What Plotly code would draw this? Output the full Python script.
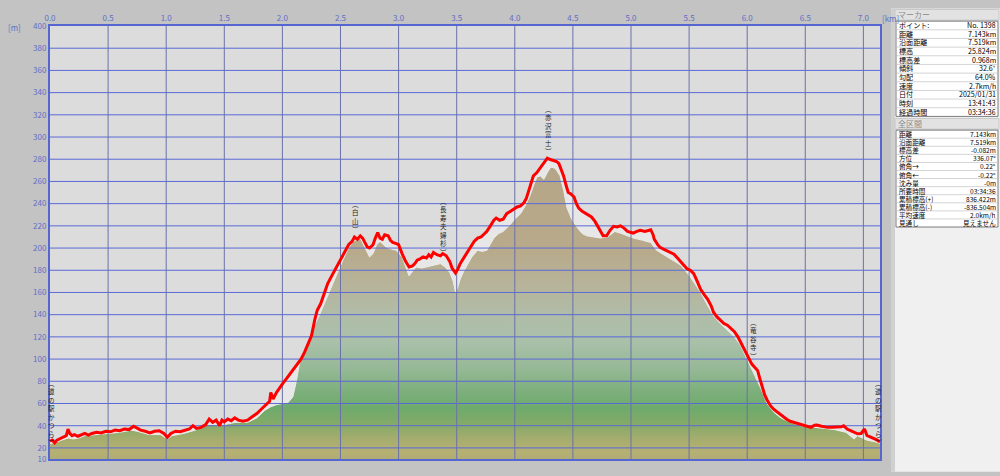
import plotly.graph_objects as go

# ---------------- data ----------------
TRACK_KM = [0.00, 0.02, 0.04, 0.06, 0.08, 0.10, 0.12, 0.14, 0.155, 0.17, 0.19, 0.21, 0.24, 0.27, 0.30, 0.33,
            0.36, 0.40, 0.44, 0.48, 0.52, 0.56, 0.60, 0.64, 0.68, 0.72, 0.75, 0.78, 0.82, 0.86, 0.90, 0.94,
            0.98, 1.01, 1.04, 1.08, 1.12, 1.16, 1.20, 1.23, 1.26, 1.30, 1.34, 1.37, 1.40, 1.43, 1.46, 1.48,
            1.50, 1.53, 1.56, 1.59, 1.62, 1.66, 1.70, 1.74, 1.78, 1.82, 1.86, 1.89, 1.90, 1.92, 1.95, 1.98,
            2.01, 2.04, 2.07, 2.10, 2.13, 2.16, 2.19, 2.22, 2.25, 2.28, 2.30, 2.33, 2.36, 2.39, 2.42, 2.45,
            2.48, 2.51, 2.54, 2.57, 2.60, 2.62, 2.645, 2.67, 2.69, 2.71, 2.73, 2.75, 2.78, 2.80, 2.82, 2.84,
            2.86, 2.88, 2.91, 2.93, 2.95, 2.98, 3.00, 3.03, 3.06, 3.09, 3.12, 3.14, 3.16, 3.18, 3.21, 3.24,
            3.26, 3.28, 3.30, 3.33, 3.36, 3.38, 3.41, 3.44, 3.46, 3.49, 3.51, 3.53, 3.56, 3.59, 3.62, 3.65,
            3.68, 3.71, 3.73, 3.76, 3.79, 3.82, 3.84, 3.87, 3.90, 3.93, 3.96, 3.99, 4.02, 4.05, 4.08, 4.10,
            4.12, 4.14, 4.16, 4.19, 4.22, 4.25, 4.28, 4.30, 4.33, 4.36, 4.38, 4.40, 4.42, 4.44, 4.46, 4.48,
            4.51, 4.53, 4.55, 4.58, 4.61, 4.64, 4.66, 4.69, 4.71, 4.74, 4.76, 4.79, 4.82, 4.85, 4.88, 4.91,
            4.94, 4.97, 5.00, 5.02, 5.05, 5.08, 5.12, 5.17, 5.19, 5.20, 5.23, 5.25, 5.28, 5.31, 5.34, 5.37,
            5.40, 5.43, 5.46, 5.48, 5.51, 5.54, 5.57, 5.60, 5.63, 5.66, 5.69, 5.71, 5.74, 5.77, 5.80, 5.83,
            5.86, 5.89, 5.92, 5.94, 5.97, 6.00, 6.02, 6.04, 6.07, 6.09, 6.11, 6.13, 6.15, 6.17, 6.20, 6.23,
            6.26, 6.29, 6.32, 6.34, 6.37, 6.40, 6.43, 6.46, 6.50, 6.53, 6.55, 6.58, 6.60, 6.64, 6.69, 6.73,
            6.78, 6.81, 6.83, 6.86, 6.89, 6.92, 6.95, 6.98, 7.00, 7.01, 7.03, 7.06, 7.09, 7.12, 7.143]
TRACK_ELEV = [26, 27, 24.5, 27, 28, 29, 30, 31, 37, 33, 31, 32, 30.5, 32, 33, 31.5,
              33, 34, 33.5, 35, 34.5, 36, 35.5, 37, 36.5, 39.5, 38, 36, 35, 33.5, 35, 35.5,
              33, 29.5, 33, 35, 34.5, 36, 37, 40, 37.5, 38.5, 41, 46, 43, 45, 40, 45,
              43.5, 46, 44.5, 47, 45, 44, 45, 48, 51, 55, 59, 62, 70, 64, 70, 75,
              79, 83, 87, 91, 95, 100, 106, 113, 121, 136, 144, 150, 160, 168, 174, 180,
              185, 191, 197, 203, 206, 210, 208, 211, 209, 205, 201, 200, 203, 209, 214, 209,
              208, 212, 211, 207, 205, 204, 203, 195, 188, 183, 184, 186, 189, 190, 192, 191,
              194, 192, 196, 194, 193, 195, 193, 188, 182, 177.5, 181, 186, 191, 196, 201, 206,
              209, 210, 212, 215, 220, 225, 227, 225, 226, 231, 233, 235, 237, 238, 241, 245,
              251, 258, 265, 268, 272, 276, 281, 280, 279, 278, 276, 271, 265, 257, 250, 249,
              246, 240, 236, 233, 231, 229, 228, 224, 220, 215, 211, 211, 216, 219.6, 219, 220,
              218, 215, 214, 213.5, 215, 216, 215, 216.5, 212, 208, 203, 200.6, 199, 197.7, 196, 194.5,
              191, 187.4, 184, 181.6, 180, 177, 170, 162.6, 158, 153.9, 148, 142.2, 138, 134.9, 132, 130.5,
              128, 124.7, 120, 116, 110, 104.2, 99, 95.5, 92, 89.6, 82, 75, 68, 63.4, 58, 54.6,
              52, 50.2, 47, 45.8, 44, 43, 42, 41.5, 40, 39, 38.5, 40.5, 40.6, 39.5, 38.5, 38.7,
              38.5, 39, 40, 37, 35.6, 34, 32.7, 33, 36, 37, 31.3, 30, 28.3, 27, 25.4]

TERRAIN_KM = [0.00, 0.05, 0.10, 0.16, 0.20, 0.25, 0.30, 0.40, 0.50, 0.60, 0.70, 0.75, 0.85, 0.95, 1.01, 1.05,
              1.15, 1.25, 1.35, 1.45, 1.50, 1.60, 1.70, 1.78, 1.85, 1.90, 1.95, 2.00, 2.05, 2.09, 2.12, 2.15,
              2.20, 2.26, 2.32, 2.38, 2.45, 2.52, 2.57, 2.61, 2.67, 2.71, 2.75, 2.78, 2.81, 2.84, 2.89, 2.94,
              2.98, 3.03, 3.06, 3.09, 3.12, 3.15, 3.20, 3.24, 3.30, 3.36, 3.40, 3.44, 3.47, 3.49, 3.51, 3.53,
              3.56, 3.59, 3.63, 3.68, 3.72, 3.76, 3.79, 3.82, 3.86, 3.90, 3.93, 3.96, 4.00, 4.05, 4.09, 4.13,
              4.16, 4.19, 4.22, 4.25, 4.28, 4.31, 4.34, 4.36, 4.39, 4.42, 4.45, 4.49, 4.54, 4.58, 4.62, 4.68,
              4.74, 4.80, 4.86, 4.92, 4.97, 5.02, 5.10, 5.17, 5.22, 5.31, 5.43, 5.51, 5.60, 5.65, 5.71, 5.77,
              5.83, 5.89, 5.94, 6.00, 6.06, 6.12, 6.17, 6.23, 6.29, 6.37, 6.46, 6.60, 6.75, 6.85, 6.90, 6.92,
              6.95, 7.03, 7.10, 7.143]
TERRAIN_ELEV = [24, 25, 27, 29, 28, 29, 31, 32, 33, 34, 36, 35, 32, 32, 28, 31,
                33, 36, 41, 41, 41, 43, 43, 47, 54, 57, 59, 60, 61, 66, 80, 98,
                112, 127, 140, 155, 172, 189, 200, 206, 209, 200, 192, 195, 203, 206, 201, 199,
                198, 192, 183, 175, 179, 183, 182, 183, 185, 186, 183, 178, 170, 160, 165, 172,
                179, 185, 192, 198, 197, 198, 204, 209, 213, 215, 218, 221, 226, 231, 238, 247,
                256, 264, 265, 262, 268, 273, 272, 270, 265, 252, 236, 226, 218, 213, 211, 210,
                209, 210, 215, 213, 211, 209, 207, 205, 198, 192, 184.5, 174, 160, 150, 139, 132,
                126, 120, 113, 100, 87, 73, 60, 52, 47, 43, 40, 38, 36.5, 34, 30, 28,
                31, 27, 25.5, 24]

X_MAX = 7.143
X_TICKS = [0.0, 0.5, 1.0, 1.5, 2.0, 2.5, 3.0, 3.5, 4.0, 4.5, 5.0, 5.5, 6.0, 6.5, 7.0]
Y_TICKS = [10, 20, 40, 60, 80, 100, 120, 140, 160, 180, 200, 220, 240, 260, 280, 300, 320, 340, 360, 380, 400]

PLACE_NAMES = ["道の駅かつら", "白山", "長寿夫婦杉", "赤沢富士", "竜谷寺", "道の駅かつら"]
PLACE_KM = [0.017, 2.63, 3.39, 4.29, 6.05, 7.13]
PLACE_Y = [52, 212, 191, 282, 97, 52]
PLACE_ANCHOR = ["middle", "bottom", "bottom", "bottom", "bottom", "middle"]

MARKER_LABELS = ["ポイント:", "距離", "沿面距離", "標高", "標高差", "傾斜", "勾配", "速度", "日付", "時刻", "経過時間"]
MARKER_VALUES = ["No. 1398", "7.143km", "7.519km", "25.824m", "0.968m", "32.6°", "64.0%", "2.7km/h",
                 "2025/01/31", "13:41:43", "03:34:36"]
TOTAL_LABELS = ["距離", "沿面距離", "標高差", "方位", "俯角→", "俯角←", "沈み量", "所要時間",
                "累積標高(+)", "累積標高(-)", "平均速度", "見通し"]
TOTAL_VALUES = ["7.143km", "7.519km", "-0.082m", "336.07°", "0.22°", "-0.22°", "-0m", "03:34:36",
                "836.422m", "-836.504m", "2.0km/h", "見えません"]

# ---------------- layout geometry ----------------
W, H = 1000, 476
ML, MR, MT, MB = 50, 120, 18, 13
PW, PH = W - ML - MR, H - MT - MB
FONT = "Noto Sans CJK JP"
AXC = "#5f6fc8"


def px(xpix):
    return (xpix - ML) / PW


def py(ypix):
    return (H - MB - ypix) / PH


fig = go.Figure()

# light fill under GPS track
fig.add_trace(go.Scatter(x=TRACK_KM, y=TRACK_ELEV, mode="lines", line=dict(width=0, color="#e7e7e7"),
                         fill="tozeroy", fillcolor="#e7e7e7", hoverinfo="skip", showlegend=False))
# terrain profile with gradient
fig.add_trace(go.Scatter(
    x=TERRAIN_KM, y=TERRAIN_ELEV, mode="lines", line=dict(width=1, color="#ececec"),
    fill="tozeroy",
    fillgradient=dict(type="vertical", start=10, stop=285, colorscale=[
        [0.0, "#958d80"], [0.03, "#aea877"], [0.06, "#b6b172"], [0.10, "#a6ad6e"],
        [0.15, "#84aa68"], [0.20, "#6eaa6c"], [0.26, "#7fb07e"], [0.33, "#97b997"],
        [0.41, "#a9c0a9"], [0.50, "#b0bca8"], [0.59, "#b7b49a"], [0.70, "#b8aa8b"],
        [1.0, "#b4a586"]]),
    hoverinfo="skip", showlegend=False))

# grid lines (drawn above the fill)
hx, hy = [], []
for v in Y_TICKS:
    if v % 20 == 0 and 10 < v < 400:
        hx += [0, X_MAX, None]
        hy += [v, v, None]
fig.add_trace(go.Scatter(x=hx, y=hy, mode="lines", line=dict(color="#5a6ad8", width=1),
                         hoverinfo="skip", showlegend=False))
vx, vy = [], []
for k in X_TICKS:
    if k > 0:
        vx += [k, k, None]
        vy += [10, 400, None]
fig.add_trace(go.Scatter(x=vx, y=vy, mode="lines", line=dict(color="#6b72a8", width=1),
                         hoverinfo="skip", showlegend=False))

# GPS track line
fig.add_trace(go.Scatter(x=TRACK_KM, y=TRACK_ELEV, mode="lines", line=dict(color="#ff0000", width=3),
                         hoverinfo="skip", showlegend=False))

annotations = []
shapes = []

# vertical place labels (characters stacked)
for name, km, yv, anc in zip(PLACE_NAMES, PLACE_KM, PLACE_Y, PLACE_ANCHOR):
    txt = "<br>".join(["︵"] + list(name) + ["︶"])
    annotations.append(dict(x=km, y=yv, xref="x", yref="y", text=txt, showarrow=False,
                            xanchor="center", yanchor=anc, borderpad=0,
                            font=dict(family=FONT, size=6.5, color="#222222")))

# axis unit labels
annotations.append(dict(x=px(6), y=py(20), xref="paper", yref="paper", text="[m]", showarrow=False,
                        xanchor="left", yanchor="middle", font=dict(family=FONT, size=8, color=AXC)))
annotations.append(dict(x=px(880), y=py(10), xref="paper", yref="paper", text="[km]", showarrow=False,
                        xanchor="left", yanchor="middle", font=dict(family=FONT, size=8, color=AXC)))

# right info panel
shapes.append(dict(type="rect", xref="paper", yref="paper", x0=px(891), x1=px(1000), y0=py(476), y1=py(0),
                   fillcolor="#f0f0f0", line=dict(width=0), layer="above"))
shapes.append(dict(type="rect", xref="paper", yref="paper", x0=px(891), x1=px(895), y0=py(476), y1=py(0),
                   fillcolor="#d0d0d0", line=dict(width=0), layer="above"))


def panel_table(title, title_top, table_top, row_h, labels, values, fsize):
    shapes.append(dict(type="rect", xref="paper", yref="paper", x0=px(895), x1=px(999),
                       y0=py(title_top + 11), y1=py(title_top), fillcolor="#e2e2e2",
                       line=dict(width=1, color="#c8c8c8"), layer="above"))
    annotations.append(dict(x=px(897), y=py(title_top + 5.5), xref="paper", yref="paper", text=title,
                            showarrow=False, xanchor="left", yanchor="middle", borderpad=0,
                            font=dict(family=FONT, size=8, color="#8a8a8a")))
    n = len(labels)
    bottom = table_top + n * row_h
    shapes.append(dict(type="rect", xref="paper", yref="paper", x0=px(896), x1=px(998),
                       y0=py(bottom), y1=py(table_top), fillcolor="#ffffff",
                       line=dict(width=1, color="#7a7a7a"), layer="above"))
    for i, (lab, val) in enumerate(zip(labels, values)):
        yc = table_top + (i + 0.5) * row_h
        if i > 0:
            yl = table_top + i * row_h
            shapes.append(dict(type="line", xref="paper", yref="paper", x0=px(897), x1=px(997),
                               y0=py(yl), y1=py(yl), line=dict(width=1, color="#d4d4d4"), layer="above"))
        annotations.append(dict(x=px(898), y=py(yc), xref="paper", yref="paper", text=lab, showarrow=False,
                                xanchor="left", yanchor="middle", borderpad=0, height=row_h - 0.4,
                                valign="middle",
                                font=dict(family=FONT, size=fsize, color="#000000")))
        annotations.append(dict(x=px(997), y=py(yc), xref="paper", yref="paper", text=val, showarrow=False,
                                xanchor="right", yanchor="middle", borderpad=0, height=row_h - 0.4,
                                valign="middle",
                                font=dict(family=FONT, size=fsize, color="#000000")))


panel_table("マーカー", 1, 13, 8.9, MARKER_LABELS, MARKER_VALUES, 7.1)
panel_table("全区間", 113, 125, 8.3, TOTAL_LABELS, TOTAL_VALUES, 6.6)

fig.update_layout(
    width=W, height=H,
    margin=dict(l=ML, r=MR, t=MT, b=MB, pad=0),
    paper_bgcolor="#c3c3c3", plot_bgcolor="#dcdcdc",
    showlegend=False,
    annotations=annotations, shapes=shapes,
    xaxis=dict(range=[0, X_MAX], side="top", tickvals=X_TICKS, ticktext=[f"{v:.1f}" for v in X_TICKS],
               showgrid=False, zeroline=False, showline=True, linecolor="#5566d0", linewidth=2, mirror=True,
               ticks="", tickfont=dict(family=FONT, size=8, color=AXC), fixedrange=True),
    yaxis=dict(range=[10, 400], tickvals=Y_TICKS, ticktext=[str(v) for v in Y_TICKS],
               showgrid=False, zeroline=False, showline=True, linecolor="#5566d0", linewidth=2, mirror=True,
               ticks="", tickfont=dict(family=FONT, size=8, color=AXC), fixedrange=True),
)

fig.write_html("out.html", config={"displayModeBar": False},
               post_script="document.body.style.margin='0';document.body.style.overflow='hidden';")
